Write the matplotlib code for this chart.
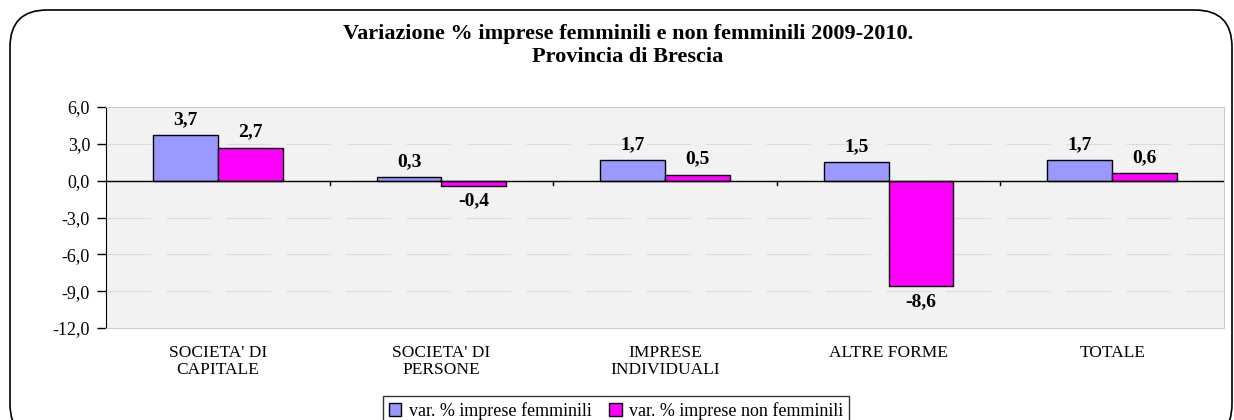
import matplotlib
matplotlib.use("Agg")
import matplotlib.pyplot as plt
from matplotlib.patches import FancyBboxPatch
import numpy as np

categories = ["SOCIETA' DI\nCAPITALE", "SOCIETA' DI\nPERSONE", "IMPRESE\nINDIVIDUALI", "ALTRE FORME", "TOTALE"]
femminili = [3.7, 0.3, 1.7, 1.5, 1.7]
non_femminili = [2.7, -0.4, 0.5, -8.6, 0.6]
series_names = ["var. % imprese femminili", "var. % imprese non femminili"]
yticks = [6.0, 3.0, 0.0, -3.0, -6.0, -9.0, -12.0]

plt.rcParams['font.family'] = ['Liberation Serif', 'DejaVu Serif']

fig = plt.figure(figsize=(12.34, 4.2), dpi=100)
# outer rounded frame
frame = FancyBboxPatch((10/1234, -0.05), 1222/1234, 1 - 10/420 + 0.05,
                       boxstyle="round,pad=0,rounding_size=0.03",
                       transform=fig.transFigure, fill=False, edgecolor='black',
                       linewidth=1.2, mutation_aspect=1234/420)
fig.patches.append(frame)

ax = fig.add_axes([106/1234, 1 - 328/420, (1224 - 106)/1234, (328 - 107)/420])
ax.set_facecolor('#f2f2f2')
x = np.arange(len(categories))
w = 0.29
b1 = ax.bar(x - w/2, femminili, w, color='#9999ff', edgecolor='black', linewidth=1.0, label=series_names[0], zorder=3)
b2 = ax.bar(x + w/2, non_femminili, w, color='#ff00ff', edgecolor='black', linewidth=1.0, label=series_names[1], zorder=3)

ax.set_ylim(-12, 6)
ax.set_xlim(-0.5, len(categories) - 0.5)
ax.set_yticks(yticks)
ax.set_yticklabels([f"{v:.1f}".replace('.', ',') for v in yticks], fontsize=13)
ax.yaxis.grid(True, color='#dcdcdc', linestyle=(0, (40, 14)), linewidth=0.8, zorder=0)
ax.axhline(0, color='black', linewidth=1.0, zorder=4)

for s in ['top', 'right', 'bottom']:
    ax.spines[s].set_color('#cccccc')
ax.spines['left'].set_color('black')
ax.tick_params(axis='y', length=6.5, width=1, pad=5)
ax.tick_params(axis='x', length=0, pad=12)
ax.set_xticks(x)
ax.set_xticklabels(categories, fontsize=12.5, linespacing=1.15)

# category boundary ticks on the zero line
for b in np.arange(0.5, len(categories) - 0.5, 1.0):
    ax.plot([b, b], [0, -0.35], color='black', linewidth=1, zorder=4)

def fmt(v):
    return f"{v:.1f}".replace('.', ',')

for bars, vals in ((b1, femminili), (b2, non_femminili)):
    for bar, v in zip(bars, vals):
        cx = bar.get_x() + bar.get_width() / 2
        if v >= 0:
            ax.annotate(fmt(v), (cx, v), xytext=(0, 5), textcoords='offset points',
                        ha='center', va='bottom', fontsize=14, fontweight='bold')
        else:
            ax.annotate(fmt(v), (cx, v), xytext=(0, -5), textcoords='offset points',
                        ha='center', va='top', fontsize=14, fontweight='bold')

fig.text(628/1234, 1 - 46/420, "Variazione % imprese femminili e non femminili 2009-2010.\nProvincia di Brescia",
         ha='center', va='center', fontsize=16, fontweight='bold', linespacing=1.2)

leg = fig.legend(handles=[b1, b2], labels=series_names, loc='lower center', ncol=2,
                 bbox_to_anchor=(616/1234, -5/420), fontsize=13, frameon=True, fancybox=False,
                 edgecolor='black', handlelength=0.7, handleheight=0.7, handletextpad=0.4,
                 columnspacing=1.0, borderpad=0.3, borderaxespad=0)
leg.get_frame().set_linewidth(1.0)

fig.savefig("out.png", dpi=100)
